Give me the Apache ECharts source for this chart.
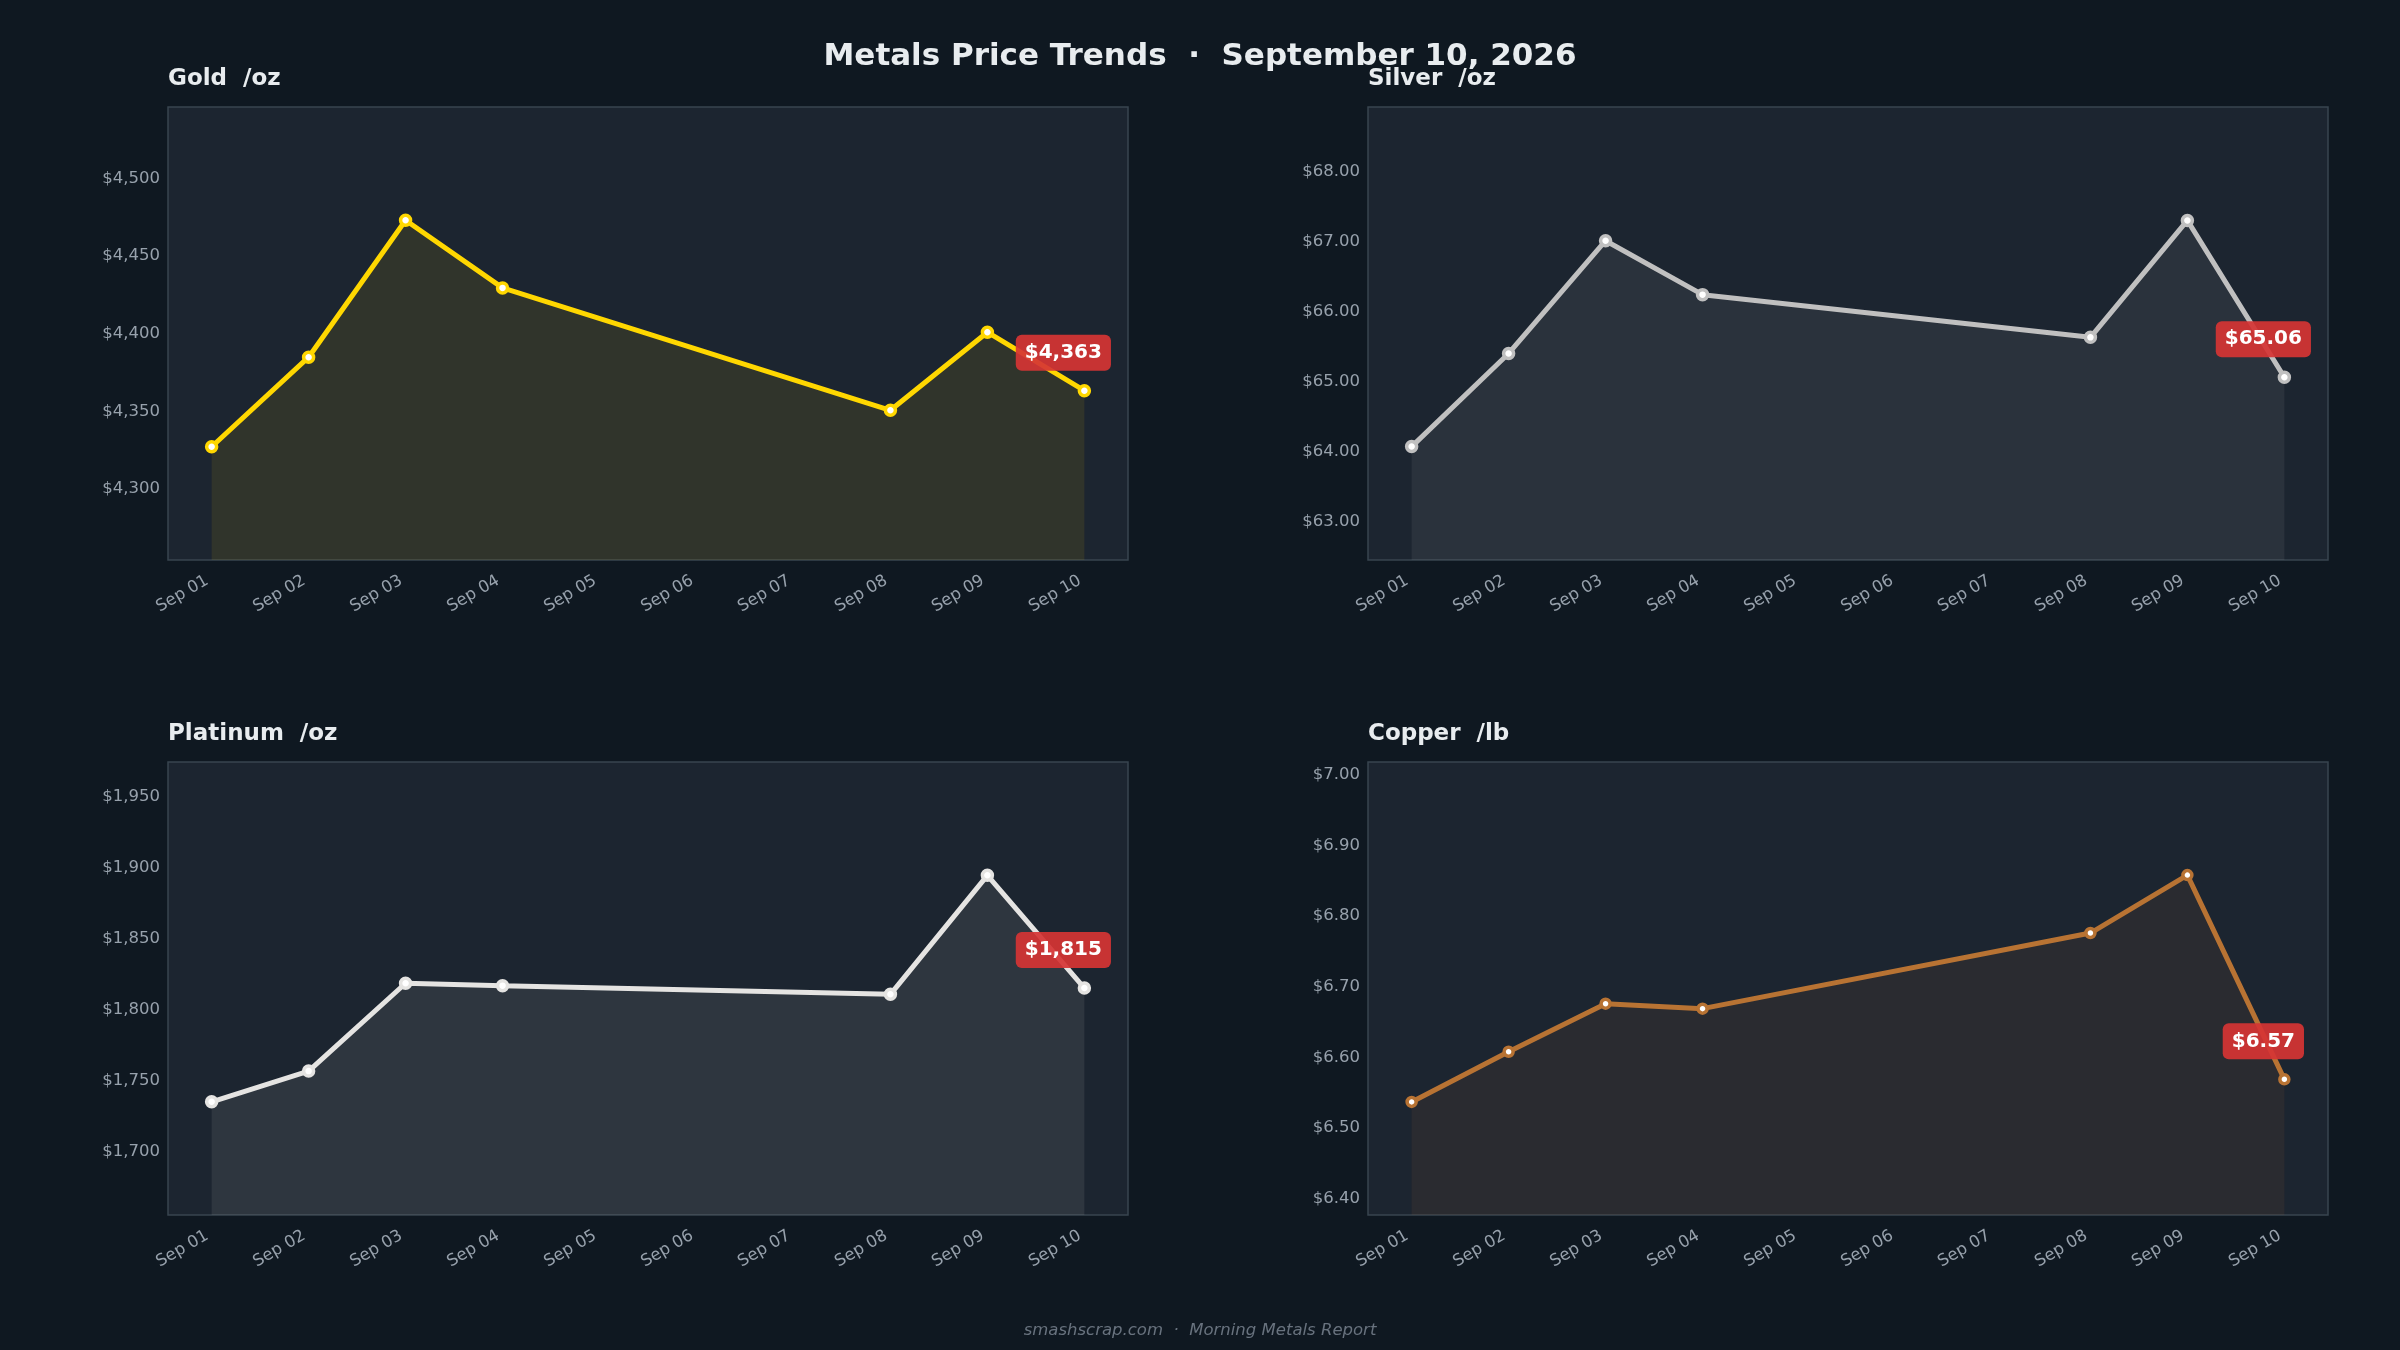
<!DOCTYPE html>
<html>
<head>
<meta charset="utf-8">
<script src="https://cdn.jsdelivr.net/npm/echarts@6/dist/echarts.min.js"></script>
<style>
  html, body { margin: 0; padding: 0; background: #0f1821; }
  #main { width: 2400px; height: 1350px; }
</style>
</head>
<body>
<div id="main"></div>
<script>
var days = ['Sep 01', 'Sep 02', 'Sep 03', 'Sep 04', 'Sep 05', 'Sep 06', 'Sep 07', 'Sep 08', 'Sep 09', 'Sep 10'];

// null = no quote that day (line joins across)
var gold = [4327.2, 4384.9, 4473.1, 4429.5, null, null, null, 4350.7, 4401.0, 4363.3];
var silver = [64.07, 65.40, 67.01, 66.24, null, null, null, 65.63, 67.30, 65.06];
var platinum = [1734.9, 1756.6, 1818.6, 1816.9, null, null, null, 1810.8, 1894.8, 1815.2];
var copper = [6.537, 6.608, 6.676, 6.669, null, null, null, 6.776, 6.858, 6.569];

var panels = [
    { name: 'Gold', unit: '/oz', data: gold, color: '#FFD700', min: 4254.3, max: 4546.0, dec: 0, sym: 10 },
    { name: 'Silver', unit: '/oz', data: silver, color: '#C0C0C0', min: 62.45, max: 68.92, dec: 2, sym: 10 },
    { name: 'Platinum', unit: '/oz', data: platinum, color: '#E5E4E2', min: 1655.0, max: 1974.8, dec: 0, sym: 10 },
    { name: 'Copper', unit: '/lb', data: copper, color: '#B87333', min: 6.377, max: 7.018, dec: 2, sym: 9 }
];

var gridPos = [
    { left: 168, top: 107 },
    { left: 1368, top: 107 },
    { left: 168, top: 762 },
    { left: 1368, top: 762 }
];

function money(v, dec) {
    return '$' + v.toLocaleString('en-US', { minimumFractionDigits: dec, maximumFractionDigits: dec });
}

function hexA(hex, a) {
    var n = parseInt(hex.slice(1), 16);
    return 'rgba(' + (n >> 16) + ',' + ((n >> 8) & 255) + ',' + (n & 255) + ',' + a + ')';
}

var titles = [{
    text: 'Metals Price Trends  \u00b7  September 10, 2026',
    left: 'center',
    top: 41,
    padding: 0,
    textStyle: { color: '#e8ecef', fontSize: 31, fontWeight: 'bold', fontFamily: 'DejaVu Sans' }
}, {
    text: 'smashscrap.com  \u00b7  Morning Metals Report',
    left: 'center',
    top: 1322,
    padding: 0,
    textStyle: { color: '#68727e', fontSize: 16.5, fontStyle: 'italic', fontWeight: 'normal', fontFamily: 'DejaVu Sans' }
}];
var grids = [], xAxes = [], yAxes = [], series = [];

panels.forEach(function(p, i) {
    var g = gridPos[i];
    titles.push({
        text: p.name + '  ' + p.unit,
        left: g.left,
        top: g.top - 39,
        padding: 0,
        textStyle: { color: '#e8ecef', fontSize: 23, fontWeight: 'bold', fontFamily: 'DejaVu Sans' }
    });
    grids.push({
        left: g.left, top: g.top, width: 960, height: 453,
        show: true,
        backgroundColor: '#1c2530',
        borderColor: '#38444f',
        borderWidth: 1.5
    });
    xAxes.push({
        type: 'value',
        gridIndex: i,
        min: -0.45,
        max: 9.45,
        axisLine: { show: false },
        axisTick: { show: false },
        splitLine: { show: false },
        axisLabel: {
            customValues: [0, 1, 2, 3, 4, 5, 6, 7, 8, 9],
            rotate: 30,
            margin: 17,
            padding: [0, 5, 0, 0],
            color: '#97a1ac',
            fontSize: 16.5,
            fontFamily: 'DejaVu Sans',
            formatter: function(v) { return days[Math.round(v)]; }
        }
    });
    yAxes.push({
        type: 'value',
        gridIndex: i,
        min: p.min,
        max: p.max,
        splitNumber: 5,
        axisLine: { show: false },
        axisTick: { show: false },
        splitLine: { show: false },
        axisLabel: {
            showMinLabel: false,
            showMaxLabel: false,
            margin: 8,
            color: '#97a1ac',
            fontSize: 16.5,
            fontFamily: 'DejaVu Sans',
            formatter: function(v) { return money(v, p.dec); }
        }
    });
    var pts = p.data.map(function(v, k) { return [k, v]; });
    var last = pts.length - 1;
    pts[last] = {
        value: pts[last],
        label: {
            show: true,
            position: 'inside',
            offset: [-21, -38],
            formatter: money(p.data[last], p.dec),
            color: '#ffffff',
            fontSize: 20,
            fontWeight: 'bold',
            fontFamily: 'DejaVu Sans',
            backgroundColor: 'rgba(214, 52, 52, 0.92)',
            borderRadius: 6,
            padding: [6, 9],
            lineHeight: 24
        }
    };
    series.push({
        type: 'line',
        xAxisIndex: i,
        yAxisIndex: i,
        data: pts,
        connectNulls: true,
        symbol: 'circle',
        symbolSize: p.sym,
        showAllSymbol: true,
        lineStyle: { color: p.color, width: 5 },
        itemStyle: { color: '#ffffff', borderColor: p.color, borderWidth: 3.5 },
        areaStyle: { color: hexA(p.color, 0.13), origin: 'start' },
        emphasis: { disabled: true },
        animation: false,
        z: 3
    });
});

var myChart = echarts.init(document.getElementById('main'));
myChart.setOption({
    backgroundColor: '#0f1821',
    animation: false,
    title: titles,
    grid: grids,
    xAxis: xAxes,
    yAxis: yAxes,
    series: series
});

window.onresize = function() {
    myChart.resize();
};
</script>
</body>
</html>
